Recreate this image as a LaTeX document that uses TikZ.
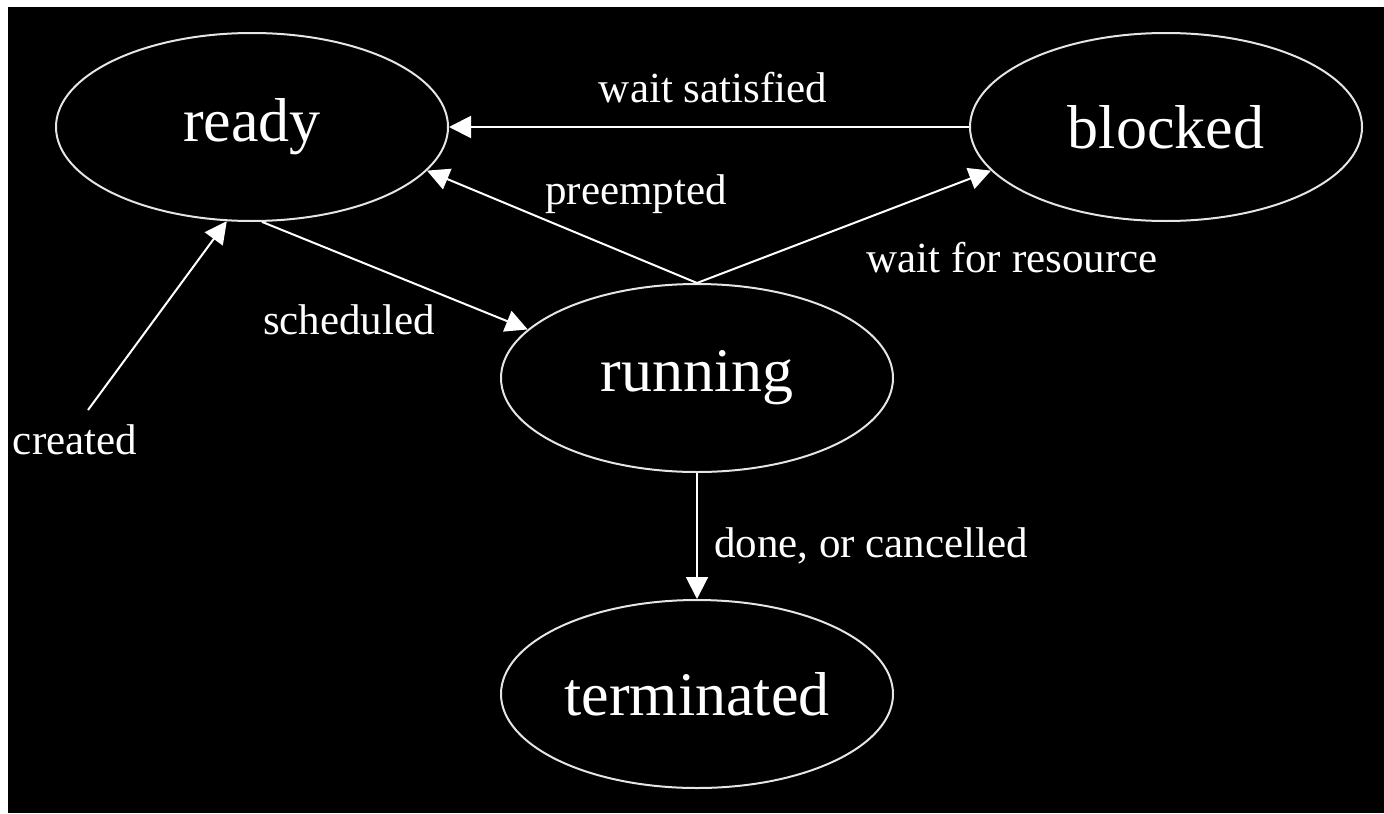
\documentclass[tikz,border=0pt]{standalone}
\usepackage{fontspec}
\setmainfont{Liberation Serif}
\usetikzlibrary{positioning, shapes.geometric, arrows.meta}

\begin{document}
\begin{tikzpicture}[
    x=0.5pt, y=-0.5pt,
    state/.style={draw=white!90!black, line width=1pt, ellipse, minimum width=196pt, minimum height=94pt, inner sep=0pt, text=white, font=\fontsize{31}{36}\selectfont},
    edgetext/.style={text=white, inner sep=1pt, font=\fontsize{21.5}{26}\selectfont},
    arrow/.style={-{Triangle[length=11pt,width=11pt]}, line width=1pt, draw=white}
]
\useasboundingbox (0,0) rectangle (1384,813);
\fill[white] (0,0) rectangle (1384,813);
\fill[black] (8,7) rectangle (1384,813);

\node[state] (ready) at (252,127) {ready};
\node[state, right=260pt of ready] (blocked) {blocked};
\node[state] (running) at (697,378) {running};
\node[state, below=63pt of running] (terminated) {terminated};
\coordinate (origin) at (88,410);

\draw[arrow] (origin) -- (ready.-105);
\draw[arrow] (ready.-84) -- (running.164);
\draw[arrow] (running.north) -- (ready.-14);
\draw[arrow] (running.north) -- (blocked.194);
\draw[arrow] (blocked) -- (ready);
\draw[arrow] (running) -- (terminated);

\node[edgetext] (t-created) at (75,440) {created};
\node[edgetext] (t-scheduled) at (349,320) {scheduled};
\node[edgetext] (t-preempted) at (636,194) {preempted};
\node[edgetext] (t-satisfied) at (713,88) {wait satisfied};
\node[edgetext] (t-resource) at (1012,258) {wait for resource};
\node[edgetext] (t-done) at (871,546) {done, or cancelled};
\end{tikzpicture}
\end{document}
